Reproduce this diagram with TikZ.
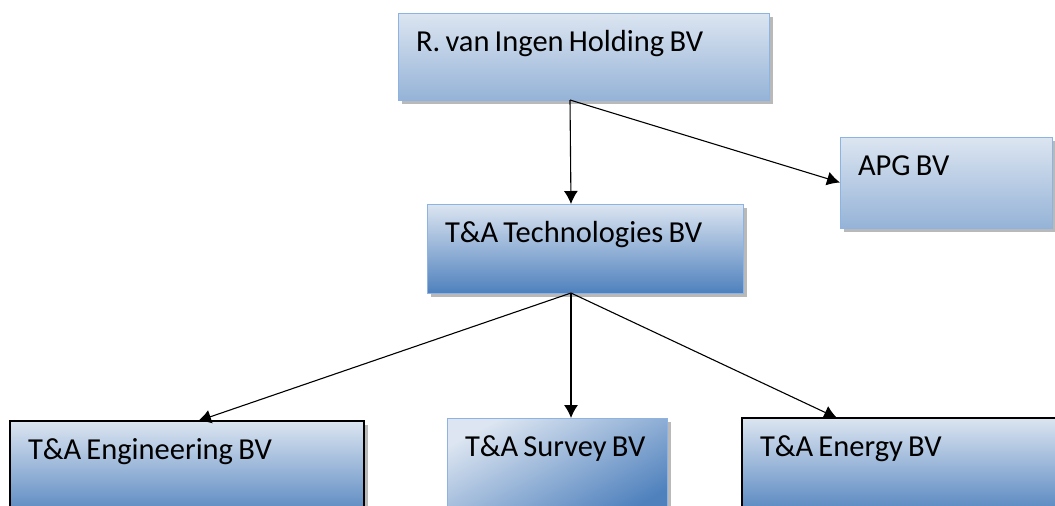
\documentclass[tikz,border=0pt]{standalone}
\usepackage{fontspec}
\setmainfont{Carlito}
\usetikzlibrary{arrows.meta,shadows}

\definecolor{boxlight}{HTML}{DCE5F1}
\definecolor{boxmid}{HTML}{95B3D7}
\definecolor{boxdark}{HTML}{4F81BD}
\definecolor{boxline}{HTML}{8DB3E2}

\newcommand{\tightspace}{\spaceskip=0.17em\relax}

\tikzset{
  orgbox/.style 2 args={anchor=north west, inner xsep=18pt, inner ysep=0pt, outer sep=0pt,
    text width=#1, text height=38pt, text depth=#2, align=left,
    font=\fontsize{30.5}{35}\selectfont, execute at begin node=\tightspace,
    drop shadow={shadow xshift=4pt, shadow yshift=-4pt, fill=black!55}},
  paleblue/.style={draw=boxline, line width=0.8pt, top color=boxlight, bottom color=boxmid},
  midblue/.style={draw=boxline, line width=0.8pt, top color=boxlight, bottom color=boxdark},
  diagblue/.style={draw=boxline, line width=0.8pt, top color=boxlight, bottom color=boxdark, shading angle=28},
  darkframe/.style={draw=black, line width=1.2pt, top color=boxlight, bottom color=boxdark},
  link/.style={-{Latex[length=13pt,width=14pt]}, line width=1.1pt}
}

\begin{document}
\begin{tikzpicture}[x=1pt,y=-1pt]
  \useasboundingbox (0,0) rectangle (1055,506);
  \clip (0,0) rectangle (1055,506);
  % bovenste laag
  \node[orgbox={335pt}{49pt}, paleblue] (holding) at (398,13) {R. van Ingen Holding BV};
  \node[orgbox={176pt}{53pt}, paleblue] (apg) at (840,137) {APG BV};
  \node[orgbox={280pt}{51pt}, midblue] (tech) at (427,204) {T\&A Technologies BV};
  % onderste laag
  \node[orgbox={318pt}{62pt}, darkframe] (eng) at (10,421) {T\&A Engineering BV};
  \node[orgbox={184pt}{62pt}, diagblue] (survey) at (447,418) {T\&A Survey BV};
  \node[orgbox={294pt}{62pt}, darkframe] (energy) at (742,418) {T\&A Energy BV};

  \coordinate (split1) at ([xshift=-13.5pt]holding.south);
  \coordinate (split2) at ([xshift=-14pt]tech.south);

  \draw[link] (split1) -- ([xshift=-14pt]tech.north);
  \draw[link] (split1) -- (apg.west);
  \draw[link] (split2) -- ([xshift=11pt]eng.north);
  \draw[link] (split2) -- ([xshift=14pt]survey.north);
  \draw[link] (split2) -- ([xshift=95pt]energy.north west);
\end{tikzpicture}
\end{document}
